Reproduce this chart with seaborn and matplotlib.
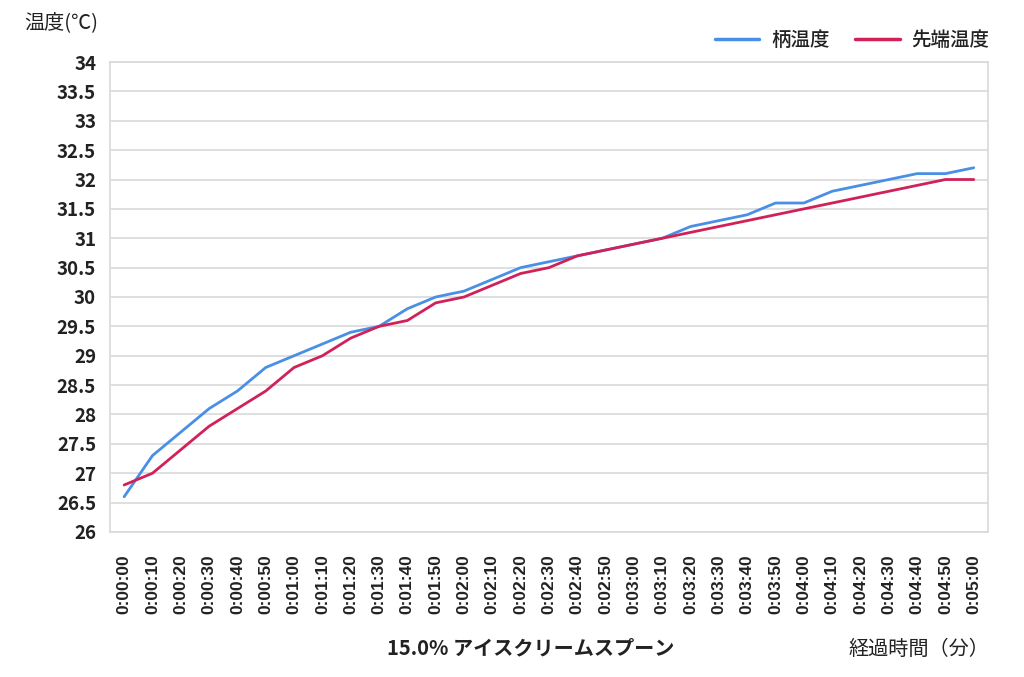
import matplotlib
matplotlib.use("Agg")
import matplotlib.pyplot as plt
import seaborn as sns
import pandas as pd
from matplotlib.lines import Line2D

times = ["0:00:00", "0:00:10", "0:00:20", "0:00:30", "0:00:40", "0:00:50",
         "0:01:00", "0:01:10", "0:01:20", "0:01:30", "0:01:40", "0:01:50",
         "0:02:00", "0:02:10", "0:02:20", "0:02:30", "0:02:40", "0:02:50",
         "0:03:00", "0:03:10", "0:03:20", "0:03:30", "0:03:40", "0:03:50",
         "0:04:00", "0:04:10", "0:04:20", "0:04:30", "0:04:40", "0:04:50",
         "0:05:00"]
handle_temp = [26.6, 27.3, 27.7, 28.1, 28.4, 28.8, 29.0, 29.2, 29.4, 29.5,
               29.8, 30.0, 30.1, 30.3, 30.5, 30.6, 30.7, 30.8, 30.9, 31.0,
               31.2, 31.3, 31.4, 31.6, 31.6, 31.8, 31.9, 32.0, 32.1, 32.1,
               32.2]
tip_temp = [26.8, 27.0, 27.4, 27.8, 28.1, 28.4, 28.8, 29.0, 29.3, 29.5,
            29.6, 29.9, 30.0, 30.2, 30.4, 30.5, 30.7, 30.8, 30.9, 31.0,
            31.1, 31.2, 31.3, 31.4, 31.5, 31.6, 31.7, 31.8, 31.9, 32.0,
            32.0]
series_names = ["柄温度", "先端温度"]
y_ticks = [26 + 0.5 * i for i in range(17)]

sns.set_theme(style="white")
plt.rcParams['font.family'] = ['Noto Sans CJK JP', 'DejaVu Sans']

df = pd.DataFrame({
    "idx": list(range(len(times))) * 2,
    "temp": handle_temp + tip_temp,
    "series": [series_names[0]] * len(times) + [series_names[1]] * len(times),
})

fig = plt.figure(figsize=(10.24, 6.77), dpi=100)
ax = fig.add_axes([0.1074, 0.2142, 0.8574, 0.6942])

palette = {series_names[0]: "#4a8fe6", series_names[1]: "#d02258"}
sns.lineplot(data=df, x="idx", y="temp", hue="series", palette=palette,
             linewidth=2.0, ax=ax, legend=False)

ax.set_xlim(-0.5, len(times) - 0.5)
ax.set_ylim(26, 34)
ax.set_yticks(y_ticks)
ax.set_yticklabels([f"{v:g}" for v in y_ticks], fontsize=13.5, fontweight="bold",
                   color="#222222")
ax.set_xticks(range(len(times)))
ax.set_xticklabels(times, rotation=90, fontsize=12.5, fontweight="bold",
                   color="#222222", family=["Liberation Sans"])
ax.tick_params(axis="y", length=0, pad=10)
ax.tick_params(axis="x", length=0, pad=16)
ax.grid(axis="y", color="#d9d9d9", linewidth=1.2)
ax.set_axisbelow(True)
for side in ["left", "right", "bottom", "top"]:
    ax.spines[side].set_color("#d9d9d9")
    ax.spines[side].set_linewidth(1.2)
ax.set_xlabel("")
ax.set_ylabel("")

fig.text(0.024, 0.966, "温度(℃)", fontsize=14.5, color="#222222", va="center", ha="left")
fig.text(0.518, 0.043, "15.0% アイスクリームスプーン", fontsize=14.5, fontweight="semibold",
         color="#222222", ha="center", va="center")
fig.text(0.966, 0.040, "経過時間（分）", fontsize=14.5, color="#222222",
         ha="right", va="center")

handles = [Line2D([0], [0], color=palette[n], linewidth=2.5) for n in series_names]
leg = fig.legend(handles, series_names, loc="center right", bbox_to_anchor=(0.966, 0.941),
                 ncol=2, frameon=False, fontsize=14, handlelength=2.3,
                 columnspacing=1.3, handletextpad=0.6, borderaxespad=0, borderpad=0)
for t in leg.get_texts():
    t.set_color("#222222")
    t.set_fontweight("medium")

fig.savefig("out.png", dpi=100)
